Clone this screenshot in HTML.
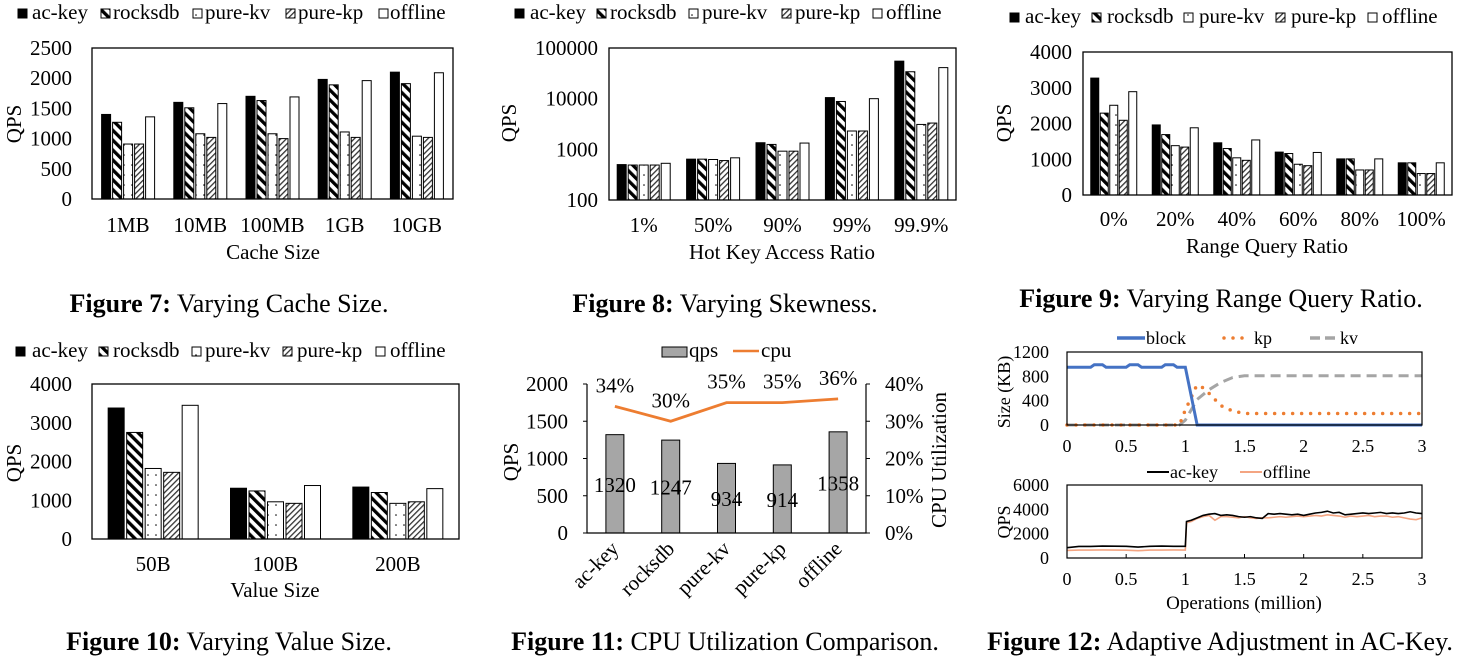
<!DOCTYPE html>
<html><head><meta charset="utf-8">
<style>
html,body{margin:0;padding:0;background:#fff;}
svg{display:block;font-family:"Liberation Serif",serif;}
</style></head>
<body>
<svg id="fig" width="1460" height="663" viewBox="0 0 1460 663" xmlns="http://www.w3.org/2000/svg">
<defs>
<pattern id="pRock" patternUnits="userSpaceOnUse" width="7" height="7" patternTransform="rotate(-45)">
<rect width="7" height="7" fill="#fff"/><rect x="0" y="0" width="3.3" height="7" fill="#000"/></pattern>
<pattern id="pKp" patternUnits="userSpaceOnUse" width="4" height="4" patternTransform="rotate(45)">
<rect width="4" height="4" fill="#fff"/><rect x="0" y="0" width="1.3" height="4" fill="#333"/></pattern>
<pattern id="pDot" patternUnits="userSpaceOnUse" width="8" height="10">
<rect width="8" height="10" fill="#fff"/><circle cx="4" cy="5" r="0.8" fill="#000"/></pattern>
</defs>
</svg>
<script>
// ---------- data ----------
const seriesNames = ['ac-key','rocksdb','pure-kv','pure-kp','offline'];
const f7Cats = ['1MB','10MB','100MB','1GB','10GB'];
const f7Ac = [1400,1600,1700,1980,2100];
const f7Rocks = [1270,1510,1630,1890,1910];
const f7Kv = [910,1080,1080,1110,1040];
const f7Kp = [910,1020,1000,1020,1020];
const f7Off = [1360,1580,1690,1960,2090];
const f7Ticks = [0,500,1000,1500,2000,2500];

const f8Cats = ['1%','50%','90%','99%','99.9%'];
const f8Ac = [500,640,1350,10500,55000];
const f8Rocks = [490,640,1250,8800,34000];
const f8Kv = [490,630,920,2300,3100];
const f8Kp = [490,600,920,2300,3300];
const f8Off = [530,680,1330,10000,41000];
const f8Ticks = [100,1000,10000,100000];

const f9Cats = ['0%','20%','40%','60%','80%','100%'];
const f9Ac = [3270,1960,1460,1200,1010,900];
const f9Rocks = [2290,1690,1300,1160,1010,900];
const f9Kv = [2510,1380,1040,860,700,600];
const f9Kp = [2090,1340,970,820,700,600];
const f9Off = [2890,1880,1540,1190,1010,900];
const f9Ticks = [0,1000,2000,3000,4000];

const f10Cats = ['50B','100B','200B'];
const f10Ac = [3380,1310,1340];
const f10Rocks = [2750,1240,1200];
const f10Kv = [1820,960,920];
const f10Kp = [1720,920,960];
const f10Off = [3450,1380,1300];
const f10Ticks = [0,1000,2000,3000,4000];

const f11Cats = ['ac-key','rocksdb','pure-kv','pure-kp','offline'];
const f11Qps = [1320,1247,934,914,1358];
const f11Cpu = [34,30,35,35,36];
const f11LeftTicks = [0,500,1000,1500,2000];
const f11RightTicks = [0,10,20,30,40];

const f12XTicks = [0,0.5,1,1.5,2,2.5,3];
const f12SizeTicks = [0,400,800,1200];
const f12QpsTicks = [0,2000,4000,6000];
const blockX = [0,0.2,0.23,0.3,0.33,0.5,0.53,0.6,0.63,0.8,0.83,0.9,0.93,1.0,1.1,3];
const blockY = [950,950,990,990,950,950,990,990,950,950,990,990,950,950,0,0];
const kpX = [0,0.95,1.0,1.05,1.08,1.12,1.2,1.3,1.4,1.5,3];
const kpY = [0,0,250,450,600,660,520,320,230,190,190];
const kvX = [0,0.95,1.0,1.05,1.1,1.2,1.3,1.4,1.5,3];
const kvY = [0,0,80,250,420,580,700,780,810,810];
const opsX = [0,0.1,0.2,0.3,0.4,0.5,0.6,0.7,0.8,0.9,1.0,1.01,1.05,1.1,1.15,1.2,1.25,1.3,1.35,1.4,1.45,1.5,1.55,1.6,1.65,1.7,1.75,1.8,1.85,1.9,1.95,2.0,2.05,2.1,2.15,2.2,2.25,2.3,2.35,2.4,2.45,2.5,2.55,2.6,2.65,2.7,2.75,2.8,2.85,2.9,2.95,3.0];
const acKeyQps = [850,950,950,980,970,960,900,960,980,960,960,3000,3100,3300,3500,3600,3650,3500,3550,3500,3400,3350,3400,3300,3250,3650,3600,3650,3600,3550,3600,3500,3600,3700,3750,3850,3700,3750,3550,3600,3650,3700,3650,3700,3750,3650,3700,3650,3700,3800,3700,3650];
const offlineQps = [620,650,650,660,650,640,600,650,650,660,650,2900,3000,3250,3400,3500,3100,3400,3400,3350,3300,3400,3300,3250,3300,3300,3350,3400,3350,3400,3450,3400,3450,3500,3450,3550,3500,3450,3350,3450,3400,3450,3500,3400,3450,3450,3350,3400,3300,3200,3150,3300];

// ---------- helpers ----------
const NS='http://www.w3.org/2000/svg';
const svg=document.getElementById('fig');
function mk(tag,attrs,parent){const e=document.createElementNS(NS,tag);for(const k in attrs)e.setAttribute(k,attrs[k]);(parent||svg).appendChild(e);return e;}
function txt(x,y,s,size,anchor,parent){const e=mk('text',{x:x,y:y,'font-size':size,'text-anchor':anchor||'start',fill:'#000'},parent);e.textContent=s;return e;}
const fills=['#000','url(#pRock)','url(#pDot)','url(#pKp)','#fff'];

function legend5(g,xs,sqs,base,pre){
  for(let i=0;i<5;i++){
    const r=mk('rect',{x:sqs[i],y:base-10,width:9,height:9,fill:fills[i],stroke:'#000','stroke-width':1},g);
    
    
    const t=txt(xs[i],base,seriesNames[i],21,'start',g);
    
    
  }
}

function barChart(c){
  const g=mk('g',{});
  
  
  const sy=v=>c.log? c.y1-(Math.log10(v)-Math.log10(c.min))/(Math.log10(c.max)-Math.log10(c.min))*(c.y1-c.y0)
                   : c.y1-(v-c.min)/(c.max-c.min)*(c.y1-c.y0);
  const cw=(c.x1-c.x0)/c.cats.length;
  const gw=5*c.bw+4*c.gap;
  c.ticks.forEach(t=>{
    const e=txt(c.x0-c.tickGap,sy(t)+7,String(t),21,'end',g);
    
    
  });
  c.cats.forEach((cat,i)=>{
    const cx=c.x0+(i+0.5)*cw;
    c.series.forEach((arr,s)=>{
      const x=cx-gw/2+s*(c.bw+c.gap);
      const y=sy(arr[i]);
      const r=mk('rect',{x:x,y:y,width:c.bw,height:c.y1-y,fill:fills[s],stroke:'#000','stroke-width':1},g);
      
      
    });
    const l=txt(cx,c.catY,cat,21,'middle',g);
    
    
  });
  const f=mk('rect',{x:c.x0,y:c.y0,width:c.x1-c.x0,height:c.y1-c.y0,fill:'none',stroke:'#000','stroke-width':1.3},g);
  
  
  const yt=txt(0,0,'QPS',21,'middle',g);
  yt.setAttribute('transform','translate('+c.ylx+','+c.yly+') rotate(-90)');
  
  
  const xt=txt(c.titleX,c.titleY,c.title,21,'middle',g);
  
  
  legend5(g,c.legX,c.legSq,c.legY,c.name);
  const cap=mk('text',{x:c.capX,y:c.capY,'font-size':26,'text-anchor':'middle'},g);
  
  
  const b=mk('tspan',{'font-weight':'bold'},cap);b.textContent=c.capB;
  const n=mk('tspan',{},cap);n.textContent=' '+c.capT;
}

barChart({name:'fig7',x0:92,x1:453,y0:48,y1:199,min:0,max:2500,ticks:f7Ticks,cats:f7Cats,
  series:[f7Ac,f7Rocks,f7Kv,f7Kp,f7Off],bw:9,gap:2,tickGap:20,catY:232,title:'Cache Size',titleX:273,titleY:259,
  ylx:21,yly:124,legX:[32,113,205,298,390],legSq:[18,101,193,286,379],legY:19,
  capX:229,capY:312,capB:'Figure 7:',capT:'Varying Cache Size.'});
barChart({name:'fig8',x0:609,x1:956,y0:48,y1:200,min:100,max:100000,log:true,ticks:f8Ticks,cats:f8Cats,
  series:[f8Ac,f8Rocks,f8Kv,f8Kp,f8Off],bw:9,gap:2,tickGap:11,catY:232,title:'Hot Key Access Ratio',titleX:782,titleY:259,
  ylx:516,yly:123,legX:[530,610,702,795,886],legSq:[515,597,689,782,873],legY:19,
  capX:725,capY:312,capB:'Figure 8:',capT:'Varying Skewness.'});
barChart({name:'fig9',x0:1083,x1:1452,y0:52,y1:195,min:0,max:4000,ticks:f9Ticks,cats:f9Cats,
  series:[f9Ac,f9Rocks,f9Kv,f9Kp,f9Off],bw:8,gap:1.5,tickGap:11,catY:226,title:'Range Query Ratio',titleX:1267,titleY:253,
  ylx:1011,yly:123,legX:[1025,1107,1199,1291,1382],legSq:[1010,1092,1184,1276,1368],legY:23,
  capX:1221,capY:307,capB:'Figure 9:',capT:'Varying Range Query Ratio.'});
barChart({name:'fig10',x0:92,x1:459,y0:384,y1:539,min:0,max:4000,ticks:f10Ticks,cats:f10Cats,
  series:[f10Ac,f10Rocks,f10Kv,f10Kp,f10Off],bw:16,gap:2.5,tickGap:20,catY:571,title:'Value Size',titleX:275,titleY:597,
  ylx:21,yly:463,legX:[32,113,205,297,390],legSq:[16,99,192,283,376],legY:357,
  capX:229,capY:650,capB:'Figure 10:',capT:'Varying Value Size.'});

// ---------- fig 11 ----------
(function(){
  const g=mk('g',{});
  
  
  const x0=587,x1=866,y0=384,y1=533;
  const sy=v=>y1-v/2000*(y1-y0);
  const sc=v=>y1-v/40*(y1-y0);
  const cw=(x1-x0)/f11Cats.length;
  const cx=i=>x0+(i+0.5)*cw;
  f11LeftTicks.forEach(t=>{
    const e=txt(x0-19,sy(t)+7,String(t),21,'end',g);
    
    
    const k=mk('line',{x1:x0-4,x2:x0,y1:sy(t),y2:sy(t),stroke:'#000'},g);
    
    
  });
  f11RightTicks.forEach(t=>{
    const e=txt(x1+19,sc(t)+7,t+'%',21,'start',g);
    
    
    const k=mk('line',{x1:x1,x2:x1+4,y1:sc(t),y2:sc(t),stroke:'#000'},g);
    
    
  });
  f11Cats.forEach((c,i)=>{
    const y=sy(f11Qps[i]);
    const r=mk('rect',{x:cx(i)-9,y:y,width:18,height:y1-y,fill:'#a6a6a6',stroke:'#000','stroke-width':1},g);
    
    
    const v=txt(cx(i),(y+y1)/2+8,String(f11Qps[i]),21,'middle',g);
    
    
    const l=txt(0,0,c,21,'end',g);
    l.setAttribute('transform','translate('+(cx(i)+5)+',550) rotate(-45)');
    
    
  });
  const ax=mk('path',{d:'M'+x0+','+y0+' L'+x0+','+y1+' L'+x1+','+y1+' L'+x1+','+y0,fill:'none',stroke:'#000','stroke-width':1.2},g);
  
  
  const pts=f11Cpu.map((v,i)=>cx(i)+','+sc(v)).join(' ');
  const pl=mk('polyline',{points:pts,fill:'none',stroke:'#ed7d31','stroke-width':2.8},g);
  
  
  f11Cpu.forEach((v,i)=>{
    const t=txt(cx(i),sc(v)-14,v+'%',21,'middle',g);
    
    
  });
  const lb=mk('rect',{x:662,y:347,width:25,height:10,fill:'#a6a6a6',stroke:'#000'},g);
  
  
  const lt=txt(689,357,'qps',21,'start',g);
  
  
  const ll=mk('line',{x1:733,x2:759,y1:351,y2:351,stroke:'#ed7d31','stroke-width':2.5},g);
  
  
  const lc=txt(761,357,'cpu',21,'start',g);
  
  
  const yl=txt(0,0,'QPS',21,'middle',g);
  yl.setAttribute('transform','translate(518,462) rotate(-90)');
  
  
  const yr=txt(0,0,'CPU Utilization',21,'middle',g);
  yr.setAttribute('transform','translate(946,460) rotate(-90)');
  
  
  const cap=mk('text',{x:725,y:650,'font-size':26,'text-anchor':'middle'},g);
  
  
  const b=mk('tspan',{'font-weight':'bold'},cap);b.textContent='Figure 11:';
  const n=mk('tspan',{},cap);n.textContent=' CPU Utilization Comparison.';
})();

// ---------- fig 12 ----------
(function(){
  const g=mk('g',{});
  
  
  const x0=1067,x1=1422;
  const sx=v=>x0+v/3*(x1-x0);
  const ty0=352,ty1=425;
  const sy=v=>ty1-v/1200*(ty1-ty0);
  const by0=485,by1=558;
  const sq=v=>by1-v/6000*(by1-by0);
  f12SizeTicks.forEach(t=>{
    const e=txt(1049,sy(t)+6,String(t),18,'end',g);
    
    
  });
  f12QpsTicks.forEach(t=>{
    const e=txt(1049,sq(t)+6,String(t),18,'end',g);
    
    
  });
  f12XTicks.forEach(t=>{
    const a=txt(sx(t),452,String(t),18,'middle',g);
    
    
    const b=txt(sx(t),585,String(t),18,'middle',g);
    
    
    const k=mk('line',{x1:sx(t),x2:sx(t),y1:by1,y2:by1-4,stroke:'#000'},g);
    
    
  });
  const line=(xs,ys,scale,attrs,name)=>{
    const p=mk('polyline',Object.assign({points:xs.map((x,i)=>sx(x)+','+scale(ys[i])).join(' '),fill:'none'},attrs),g);
    
    
  };
  line(kvX,kvY,sy,{stroke:'#a5a5a5','stroke-width':3,'stroke-dasharray':'10 6'},'fig12-kv-line');
  line(kpX,kpY,sy,{stroke:'#ed7d31','stroke-width':3.5,'stroke-dasharray':'0 9','stroke-linecap':'round'},'fig12-kp-line');
  line(blockX,blockY,sy,{stroke:'#4472c4','stroke-width':3},'fig12-block-line');
  line(opsX,offlineQps,sq,{stroke:'#f4a582','stroke-width':1.6},'fig12-offline-line');
  line(opsX,acKeyQps,sq,{stroke:'#000','stroke-width':1.6},'fig12-ackey-line');
  const f1=mk('rect',{x:x0,y:ty0,width:x1-x0,height:ty1-ty0,fill:'none',stroke:'#000','stroke-width':1.2},g);
  
  
  const f2=mk('rect',{x:x0,y:by0,width:x1-x0,height:by1-by0,fill:'none',stroke:'#000','stroke-width':1.2},g);
  
  
  const l1=mk('line',{x1:1117,x2:1145,y1:338,y2:338,stroke:'#4472c4','stroke-width':3.5},g);
  
  
  const t1=txt(1146,344,'block',18,'start',g);
  
  
  const l2=mk('line',{x1:1224,x2:1250,y1:338,y2:338,stroke:'#ed7d31','stroke-width':3.5,'stroke-dasharray':'0 9','stroke-linecap':'round'},g);
  
  
  const t2=txt(1254,344,'kp',18,'start',g);
  
  
  const l3=mk('line',{x1:1310,x2:1337,y1:338,y2:338,stroke:'#a5a5a5','stroke-width':3.5,'stroke-dasharray':'10 5'},g);
  
  
  const t3=txt(1340,344,'kv',18,'start',g);
  
  
  const l4=mk('line',{x1:1147,x2:1169,y1:472,y2:472,stroke:'#000','stroke-width':2},g);
  
  
  const t4=txt(1170,478,'ac-key',18,'start',g);
  
  
  const l5=mk('line',{x1:1240,x2:1262,y1:472,y2:472,stroke:'#f4a582','stroke-width':2},g);
  
  
  const t5=txt(1263,478,'offline',18,'start',g);
  
  
  const y1t=txt(0,0,'Size (KB)',18,'middle',g);
  y1t.setAttribute('transform','translate(1010,392) rotate(-90)');
  
  
  const y2t=txt(0,0,'QPS',18,'middle',g);
  y2t.setAttribute('transform','translate(1010,522) rotate(-90)');
  
  
  const xt=txt(1244,609,'Operations (million)',19,'middle',g);
  
  
  const cap=mk('text',{x:1220,y:650,'font-size':26,'text-anchor':'middle'},g);
  
  
  const b=mk('tspan',{'font-weight':'bold'},cap);b.textContent='Figure 12:';
  const n=mk('tspan',{},cap);n.textContent=' Adaptive Adjustment in AC-Key.';
})();
</script>
</body></html>
